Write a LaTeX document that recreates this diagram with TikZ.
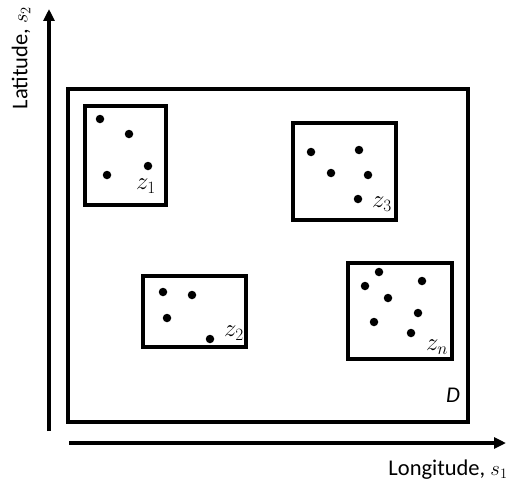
\documentclass[tikz,border=0pt]{standalone}
\usepackage{fontspec}
\setmainfont{Carlito}
\usetikzlibrary{arrows.meta}
\tikzset{
  dot/.style={circle,fill,inner sep=0pt,minimum size=8.5pt},
  area/.style={line width=3.2pt},
  axis/.style={line width=3.2pt,-{Triangle[length=12pt,width=11pt]}},
  zlab/.style={inner sep=0pt,font=\fontsize{25}{28}\selectfont},
  axlab/.style={inner sep=0pt,font=\fontsize{22.5}{26}\selectfont},
}
\begin{document}
\begin{tikzpicture}[x=1pt,y=-1pt]
    \useasboundingbox (0,0) rectangle (510,487);
    % axes
    \coordinate (O1) at (49,431);
    \coordinate (S2) at (49,9);
    \coordinate (O2) at (69,443);
    \coordinate (S1) at (506,443);
    \draw[axis] (O1) -- (S2);
    \draw[axis] (O2) -- (S1);
    \node[axlab,rotate=90] (lat) at (21,58) {Latitude, $s_2$};
    \node[axlab] (lon) at (448,470) {Longitude, $s_1$};
    % domain
    \draw[area] (68,89) rectangle (468,422);
    \node[axlab] (D) at (453,395) {\textit{D}};
    % blocks
    \draw[area] (85,106) rectangle (166,205);
    \draw[area] (293,123) rectangle (396,220);
    \draw[area] (143,276) rectangle (246,347);
    \draw[area] (348,263) rectangle (452,359);
    \node[zlab] (Z1) at (146,186) {$z_1$};
    \node[zlab] (Z3) at (382,204) {$z_3$};
    \node[zlab] (Z2) at (234,333) {$z_2$};
    \node[zlab] (Zn) at (437,347) {$z_n$};
    % points in z1
    \node[dot] (P1_1) at (100,119) {};
    \node[dot] (P1_2) at (129,134) {};
    \node[dot] (P1_3) at (148,166) {};
    \node[dot] (P1_4) at (107,175) {};
    % points in z3
    \node[dot] (P3_1) at (311,152) {};
    \node[dot] (P3_2) at (359,150) {};
    \node[dot] (P3_3) at (331,173) {};
    \node[dot] (P3_4) at (368,175) {};
    \node[dot] (P3_5) at (358,199) {};
    % points in z2
    \node[dot] (P2_1) at (163,292) {};
    \node[dot] (P2_2) at (192,295) {};
    \node[dot] (P2_3) at (167,318) {};
    \node[dot] (P2_4) at (210,339) {};
    % points in zn
    \node[dot] (Pn_1) at (379,272) {};
    \node[dot] (Pn_2) at (365,286) {};
    \node[dot] (Pn_3) at (422,281) {};
    \node[dot] (Pn_4) at (388,298) {};
    \node[dot] (Pn_5) at (418,313) {};
    \node[dot] (Pn_6) at (374,322) {};
    \node[dot] (Pn_7) at (411,333) {};
\end{tikzpicture}
\end{document}
